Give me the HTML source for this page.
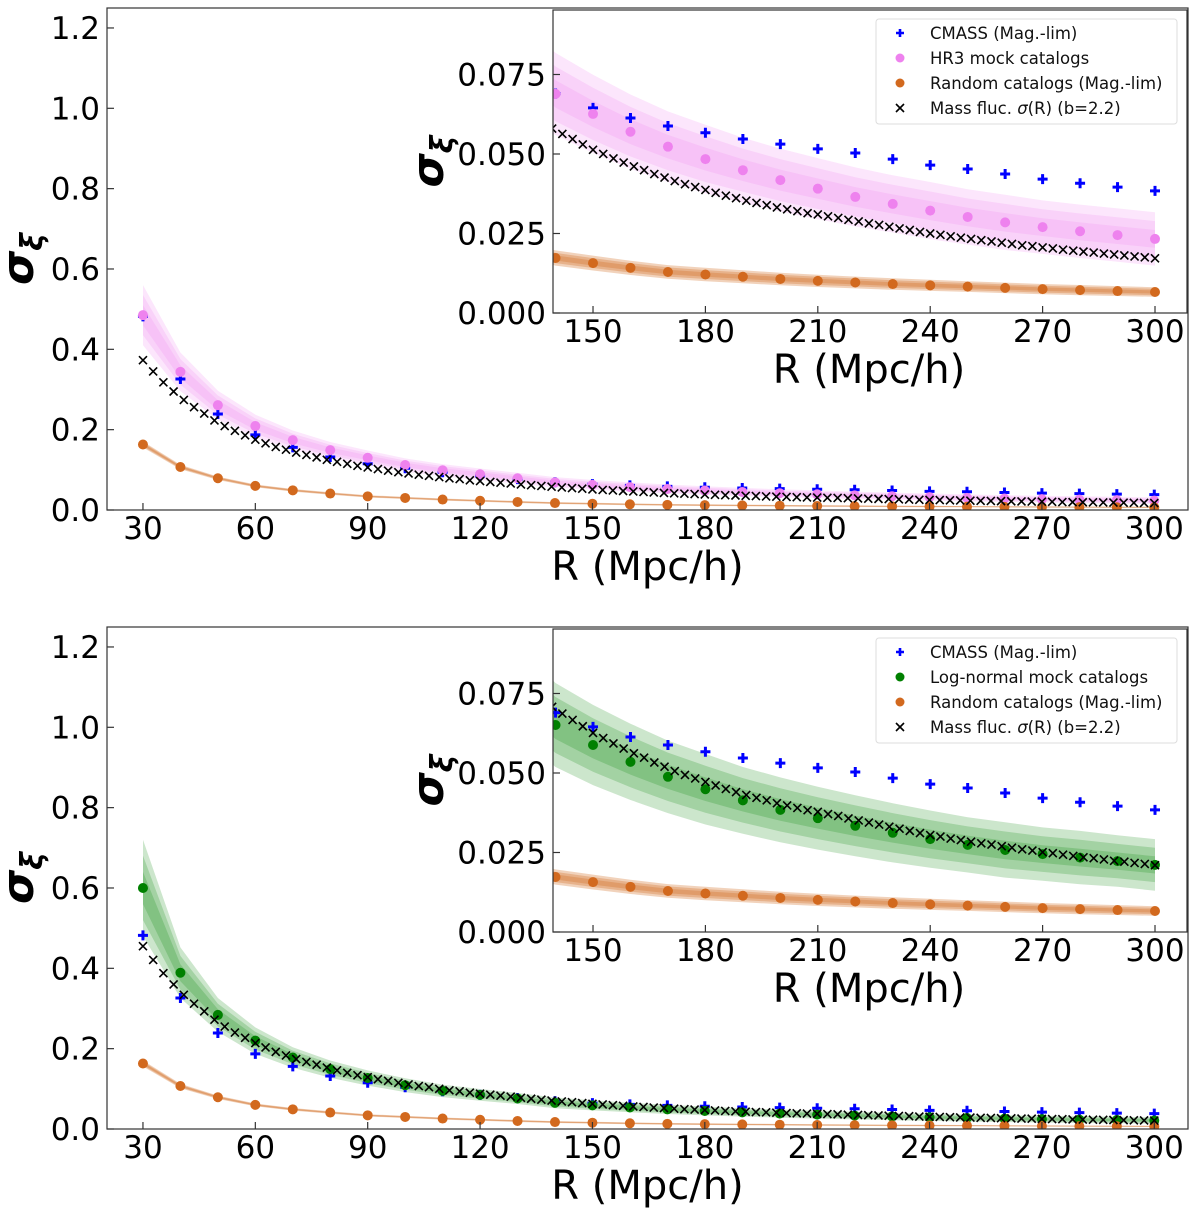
<!DOCTYPE html>
<html><head><meta charset="utf-8"><style>
html,body{margin:0;padding:0;background:#fff;}
svg{display:block;font-family:"DejaVu Sans","Liberation Sans",sans-serif;}
</style></head><body>
<svg id="fig" width="1200" height="1214" viewBox="0 0 1200 1214" xmlns="http://www.w3.org/2000/svg"></svg>
<script>
// ---- data ----
const R10 = [30,40,50,60,70,80,90,100,110,120,130,140,150,160,170,180,190,200,210,220,230,240,250,260,270,280,290,300];
const cmass = [0.482,0.326,0.239,0.187,0.156,0.132,0.115,0.104,0.094,0.085,0.077,0.069,0.0645,0.0613,0.0588,0.0567,0.0547,0.0531,0.0516,0.0503,0.0484,0.0465,0.0453,0.0437,0.0421,0.0408,0.0396,0.0384];
const hr3 = [0.485,0.344,0.261,0.209,0.174,0.149,0.130,0.112,0.099,0.089,0.079,0.0689,0.0626,0.0570,0.0523,0.0484,0.0449,0.0418,0.0391,0.0365,0.0343,0.0322,0.0302,0.0285,0.0270,0.0257,0.0245,0.0233];
const hr3Sd = [0.025,0.016,0.012,0.0095,0.008,0.0068,0.006,0.0055,0.0051,0.0048,0.0045,0.0043,0.0041,0.0039,0.0037,0.0036,0.0034,0.0033,0.0032,0.0031,0.0030,0.0030,0.0029,0.0029,0.0028,0.0028,0.0028,0.0028];
const lognorm = [0.600,0.389,0.284,0.220,0.178,0.149,0.127,0.109,0.095,0.085,0.076,0.0651,0.0588,0.0535,0.0488,0.0449,0.0414,0.0384,0.0358,0.0334,0.0312,0.0292,0.0274,0.0258,0.0245,0.0234,0.0223,0.0211];
const lognormSd = [0.040,0.021,0.014,0.011,0.0085,0.0072,0.0063,0.0057,0.0052,0.0049,0.0046,0.0044,0.0042,0.0040,0.0038,0.0037,0.0035,0.0034,0.0033,0.0032,0.0031,0.0030,0.0029,0.0029,0.0028,0.0028,0.0027,0.0027];
const rand = [0.163,0.107,0.079,0.060,0.049,0.041,0.034,0.030,0.026,0.023,0.020,0.0173,0.0157,0.0142,0.0129,0.0121,0.0114,0.0107,0.0101,0.0096,0.0091,0.0087,0.0083,0.0079,0.0075,0.0072,0.0069,0.0066];
const randSd = [0.0025,0.0018,0.0014,0.0012,0.0011,0.0010,0.00095,0.0009,0.00088,0.00085,0.00082,0.0008,0.00078,0.00075,0.00072,0.0007,0.00068,0.00066,0.00064,0.00062,0.0006,0.00058,0.00056,0.00055,0.00054,0.00053,0.00052,0.0005];
const massTop = [0.373,0.345,0.318,0.295,0.274,0.256,0.240,0.223,0.209,0.197,
0.186,0.175,0.166,0.157,0.150,0.143,0.137,0.131,0.125,0.120,
0.115,0.110,0.106,0.102,0.098,0.094,0.091,0.088,0.085,0.082,
0.079,0.077,0.074,0.072,0.070,0.068,0.066,0.0635,0.0617,0.0598,
0.0580,0.0563,0.0547,0.0530,0.0513,0.0500,0.0486,0.0473,0.0461,0.0449,
0.0437,0.0426,0.0415,0.0405,0.0396,0.0387,0.0378,0.0369,0.0361,0.0353,
0.0346,0.0339,0.0332,0.0326,0.0320,0.0314,0.0310,0.0304,0.0299,0.0293,
0.0288,0.0282,0.0277,0.0271,0.0266,0.0261,0.0255,0.0250,0.0246,0.0241,
0.0237,0.0233,0.0229,0.0225,0.0221,0.0217,0.0213,0.0210,0.0206,0.0203,
0.0199,0.0196,0.0193,0.0190,0.0187,0.0184,0.0181,0.0178,0.0175,0.0172];
const massBot = [0.455,0.421,0.388,0.360,0.334,0.312,0.293,0.272,0.255,0.240,
0.227,0.214,0.203,0.192,0.183,0.174,0.167,0.160,0.153,0.146,
0.140,0.134,0.129,0.124,0.120,0.115,0.111,0.107,0.104,0.100,
0.0964,0.0939,0.0903,0.0878,0.0854,0.0830,0.0805,0.0775,0.0753,0.0730,
0.0708,0.0687,0.0667,0.0647,0.0626,0.0610,0.0593,0.0577,0.0562,0.0548,
0.0533,0.0520,0.0506,0.0494,0.0483,0.0472,0.0461,0.0450,0.0440,0.0431,
0.0422,0.0414,0.0405,0.0398,0.0390,0.0383,0.0378,0.0371,0.0365,0.0357,
0.0351,0.0344,0.0338,0.0331,0.0325,0.0318,0.0311,0.0305,0.0300,0.0294,
0.0289,0.0284,0.0279,0.0275,0.0270,0.0265,0.0260,0.0256,0.0251,0.0248,
0.0243,0.0239,0.0235,0.0232,0.0228,0.0224,0.0221,0.0217,0.0214,0.0210];
const massR = [];
for (let i = 0; i < 100; i++) massR.push(30 + 270 * i / 99);
const mainXTicks = [30,60,90,120,150,180,210,240,270,300];
const mainYTicks = [0,0.2,0.4,0.6,0.8,1.0,1.2];
const mainYLabels = ["0.0","0.2","0.4","0.6","0.8","1.0","1.2"];
const insetXTicks = [150,180,210,240,270,300];
const insetYTicks = [0,0.025,0.05,0.075];
const insetYLabels = ["0.000","0.025","0.050","0.075"];

const NS = "http://www.w3.org/2000/svg";
const svg = document.getElementById('fig');
let clipId = 0;
function mk(tag, attrs, parent) {
  const e = document.createElementNS(NS, tag);
  for (const k in attrs) e.setAttribute(k, attrs[k]);
  (parent || svg).appendChild(e);
  return e;
}

function drawAxes(ax, mockVals, mockSd, mockColor, mass, isInset, prefix, legendLabel) {
  const sx = v => ax.x0 + (v - ax.xmin) / (ax.xmax - ax.xmin) * (ax.x1 - ax.x0);
  const sy = v => ax.y1 - (v - ax.ymin) / (ax.ymax - ax.ymin) * (ax.y1 - ax.y0);
  const g = mk('g', {});
  
  
  mk('rect', {x: ax.x0, y: ax.y0, width: ax.x1 - ax.x0, height: ax.y1 - ax.y0, fill: '#fff'}, g);
  const id = 'clip' + (clipId++);
  const cp = mk('clipPath', {id: id}, g);
  mk('rect', {x: ax.x0, y: ax.y0, width: ax.x1 - ax.x0, height: ax.y1 - ax.y0}, cp);
  const plot = mk('g', {'clip-path': 'url(#' + id + ')'}, g);

  function band(vals, sd, color, name, alpha) {
    [3, 2, 1].forEach(k => {
      let pts = [];
      for (let i = 0; i < R10.length; i++) pts.push(sx(R10[i]).toFixed(1) + ',' + sy(vals[i] + k * sd[i]).toFixed(1));
      for (let i = R10.length - 1; i >= 0; i--) pts.push(sx(R10[i]).toFixed(1) + ',' + sy(vals[i] - k * sd[i]).toFixed(1));
      const p = mk('polygon', {points: pts.join(' '), fill: color, 'fill-opacity': alpha, stroke: 'none'}, plot);
      
      
    });
  }
  band(mockVals, mockSd, mockColor, prefix + '-mock', 0.2);
  band(rand, randSd, '#d2691e', prefix + '-random', 0.3);

  const r = 5;
  for (let i = 0; i < R10.length; i++) {
    const cx = sx(R10[i]), cy = sy(cmass[i]);
    const p = mk('path', {d: `M${cx-5},${cy}H${cx+5}M${cx},${cy-5}V${cy+5}`, stroke: '#0000ff', 'stroke-width': 3, fill: 'none'}, plot);
    
    
  }
  for (let i = 0; i < R10.length; i++) {
    const c = mk('circle', {cx: sx(R10[i]), cy: sy(mockVals[i]), r: r, fill: mockColor}, plot);
    
    
  }
  for (let i = 0; i < R10.length; i++) {
    const c = mk('circle', {cx: sx(R10[i]), cy: sy(rand[i]), r: r, fill: '#d2691e'}, plot);
    
    
  }
  for (let i = 0; i < massR.length; i++) {
    const cx = sx(massR[i]), cy = sy(mass[i]), s = 4;
    const p = mk('path', {d: `M${cx-s},${cy-s}L${cx+s},${cy+s}M${cx-s},${cy+s}L${cx+s},${cy-s}`, stroke: '#000', 'stroke-width': 1.6, fill: 'none'}, plot);
    
    
  }

  mk('rect', {x: ax.x0, y: ax.y0, width: ax.x1 - ax.x0, height: ax.y1 - ax.y0, fill: 'none', stroke: '#333', 'stroke-width': 1.2}, g);
  const xt = isInset ? insetXTicks : mainXTicks;
  const yt = isInset ? insetYTicks : mainYTicks;
  const yl = isInset ? insetYLabels : mainYLabels;
  xt.forEach(v => {
    const x = sx(v);
    mk('line', {x1: x, x2: x, y1: ax.y1, y2: ax.y1 - 7, stroke: '#333', 'stroke-width': 1.2}, g);
    const t = mk('text', {x: x, y: ax.y1 + 29, 'font-size': 31, 'text-anchor': 'middle', fill: '#000'}, g);
    t.textContent = v;
    
    
  });
  yt.forEach((v, i) => {
    const y = sy(v);
    mk('line', {x1: ax.x0, x2: ax.x0 + 7, y1: y, y2: y, stroke: '#333', 'stroke-width': 1.2}, g);
    const t = mk('text', {x: ax.x0 - 7, y: y + 11, 'font-size': 31, 'text-anchor': 'end', fill: '#000'}, g);
    t.textContent = yl[i];
    
    
  });
  const xl = mk('text', {x: (ax.x0 + ax.x1) / 2 + (isInset ? -1 : 0), y: ax.y1 + 70, 'font-size': 40, 'text-anchor': 'middle', fill: '#000'}, g);
  xl.textContent = 'R (Mpc/h)';
  
  
  const ylx = isInset ? ax.x0 - 110 : ax.x0 - 74;
  const yly = (ax.y0 + ax.y1) / 2;
  const ylab = mk('text', {x: 0, y: 0, 'font-size': 44, 'font-style': 'italic', 'font-weight': 'bold', 'text-anchor': 'middle', fill: '#000', transform: `translate(${ylx},${yly}) rotate(-90)`}, g);
  ylab.innerHTML = 'σ<tspan font-size="30" dy="9">ξ</tspan>';
  
  

  if (isInset) {
    const lg = mk('g', {}, g);
    
    
    const lx = 876, ly = ax.y0 + 9;
    mk('rect', {x: lx, y: ly, width: 301, height: 105, rx: 3, fill: '#fff', 'fill-opacity': 0.85, stroke: '#ddd', 'stroke-width': 1}, lg);
    const rows = [
      ['plus', '#0000ff', 'CMASS (Mag.-lim)'],
      ['dot', mockColor, legendLabel],
      ['dot', '#d2691e', 'Random catalogs (Mag.-lim)'],
      ['cross', '#000', 'Mass fluc. σ(R) (b=2.2)']
    ];
    rows.forEach((rw, i) => {
      const cy = ly + 14 + i * 25, mx = 900;
      if (rw[0] === 'plus') mk('path', {d: `M${mx-4},${cy}H${mx+4}M${mx},${cy-4}V${cy+4}`, stroke: rw[1], 'stroke-width': 2.6}, lg);
      else if (rw[0] === 'dot') mk('circle', {cx: mx, cy: cy, r: 4.5, fill: rw[1]}, lg);
      else mk('path', {d: `M${mx-4},${cy-4}L${mx+4},${cy+4}M${mx-4},${cy+4}L${mx+4},${cy-4}`, stroke: '#000', 'stroke-width': 1.6}, lg);
      const t = mk('text', {x: 930, y: cy + 6, 'font-size': 16.5, fill: '#111'}, lg);
      if (rw[0] === 'cross') t.innerHTML = 'Mass fluc. <tspan font-style="italic">σ</tspan>(R) (b=2.2)';
      else t.textContent = rw[2];
      
      
    });
  }
}

const violet = '#ee82ee', green = '#008000';
drawAxes({x0:107,x1:1188,y0:8,y1:510,xmin:20.4,xmax:309,ymin:0,ymax:1.2497}, hr3, hr3Sd, violet, massTop, false, 'top-main', '');
drawAxes({x0:553,x1:1187,y0:10,y1:313,xmin:139.32,xmax:308.54,ymin:0,ymax:0.09528}, hr3, hr3Sd, violet, massTop, true, 'top-inset', 'HR3 mock catalogs');
drawAxes({x0:107,x1:1188,y0:627,y1:1129,xmin:20.4,xmax:309,ymin:0,ymax:1.2497}, lognorm, lognormSd, green, massBot, false, 'bottom-main', '');
drawAxes({x0:553,x1:1187,y0:629,y1:932,xmin:139.32,xmax:308.54,ymin:0,ymax:0.09528}, lognorm, lognormSd, green, massBot, true, 'bottom-inset', 'Log-normal mock catalogs');
</script>
</body></html>
